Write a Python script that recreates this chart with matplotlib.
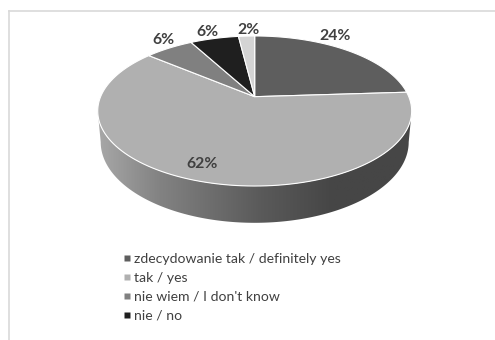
import numpy as np
import matplotlib
matplotlib.use('Agg')
import matplotlib.pyplot as plt
from matplotlib.patches import Polygon
from matplotlib.lines import Line2D
from matplotlib.colors import LinearSegmentedColormap

plt.rcParams['font.family'] = ['Lato', 'DejaVu Sans']

labels = ['zdecydowanie tak / definitely yes', 'tak / yes', 'nie wiem / I don\'t know', 'nie / no']
values = [24, 62, 6, 6, 2]
colors = ['#5e5e5e', '#b0b0b0', '#808080', '#1f1f1f', '#d4d4d4']
text_color = '#404040'

# perspective of the pie disc, in pixels
cx, cy = 254.7, 96.7
rx, ry, k = 154.1, 72.3, 0.1906
# lower rim of the wall
rim_sx, rim_sy, rim_dy = 0.981, 1.076, 30.0


def project(theta, sx=1.0, sy=1.0, dy=0.0):
    u = np.sin(theta)
    v = np.cos(theta)
    w = 1 + k * v
    return cx + sx * rx * u / w, cy + dy - sy * ry * v / w


fig = plt.figure(figsize=(4.95, 3.4), dpi=100)
ax = fig.add_axes([0, 0, 1, 1])

# chart frame, only top and left show
ax.plot([8.5, 495], [10.5, 10.5], color='#d9d9d9', lw=1.2)
ax.plot([8.5, 8.5], [10.5, 340], color='#d9d9d9', lw=1.2)

# side wall, gradient clipped to the outline between the widest points
t0 = np.arccos(-k)
t = np.linspace(t0, 2 * np.pi - t0, 200)
top_x, top_y = project(t)
bot_x, bot_y = project(t, rim_sx, rim_sy, rim_dy)
wall = Polygon(np.r_[np.c_[top_x, top_y], np.c_[bot_x, bot_y][::-1]], closed=True,
               fc='none', ec='none')
ax.add_patch(wall)
side_cmap = LinearSegmentedColormap.from_list('side', [(0, '#a8a8a8'), (0.2, '#828282'),
                                                       (0.52, '#5a5a5a'), (0.75, '#464646'),
                                                       (1, '#464646')])
im = ax.imshow(np.linspace(0, 1, 256)[None, :], extent=(97, 412, 240, 90), cmap=side_cmap,
               aspect='auto', zorder=1)
im.set_clip_path(wall)
ax.set_xlim(0, 495)
ax.set_ylim(340, 0)
ax.axis('off')

# slices, clockwise from twelve o'clock
edges = np.cumsum([0] + values) / sum(values) * 2 * np.pi
for i in range(len(values)):
    a = np.linspace(edges[i], edges[i + 1], 120)
    x, y = project(a)
    pts = np.r_[[[cx, cy]], np.c_[x, y]]
    ax.add_patch(Polygon(pts, closed=True, fc=colors[i], ec='white', lw=0.8, zorder=2))

# value labels
label_pos = [(335, 36), (201.7, 164), (163, 40.5), (207.7, 32), (249, 30)]
for v, (lx, ly) in zip(values, label_pos):
    ax.text(lx, ly, f'{v}%', ha='center', va='center', fontsize=11.3, fontweight='bold',
            color=text_color, zorder=3)

handles = [Line2D([], [], ls='none', marker='s', ms=4.2, mfc=c, mec='none') for c in colors[:4]]
ax.legend(handles, labels, loc='upper left', bbox_to_anchor=(121 / 495, 1 - 253 / 340),
          frameon=False, fontsize=10.1, labelcolor=text_color, handlelength=0.8, handletextpad=0.14,
          labelspacing=0.49, borderaxespad=0, borderpad=0)

fig.savefig('out.png', dpi=100)
